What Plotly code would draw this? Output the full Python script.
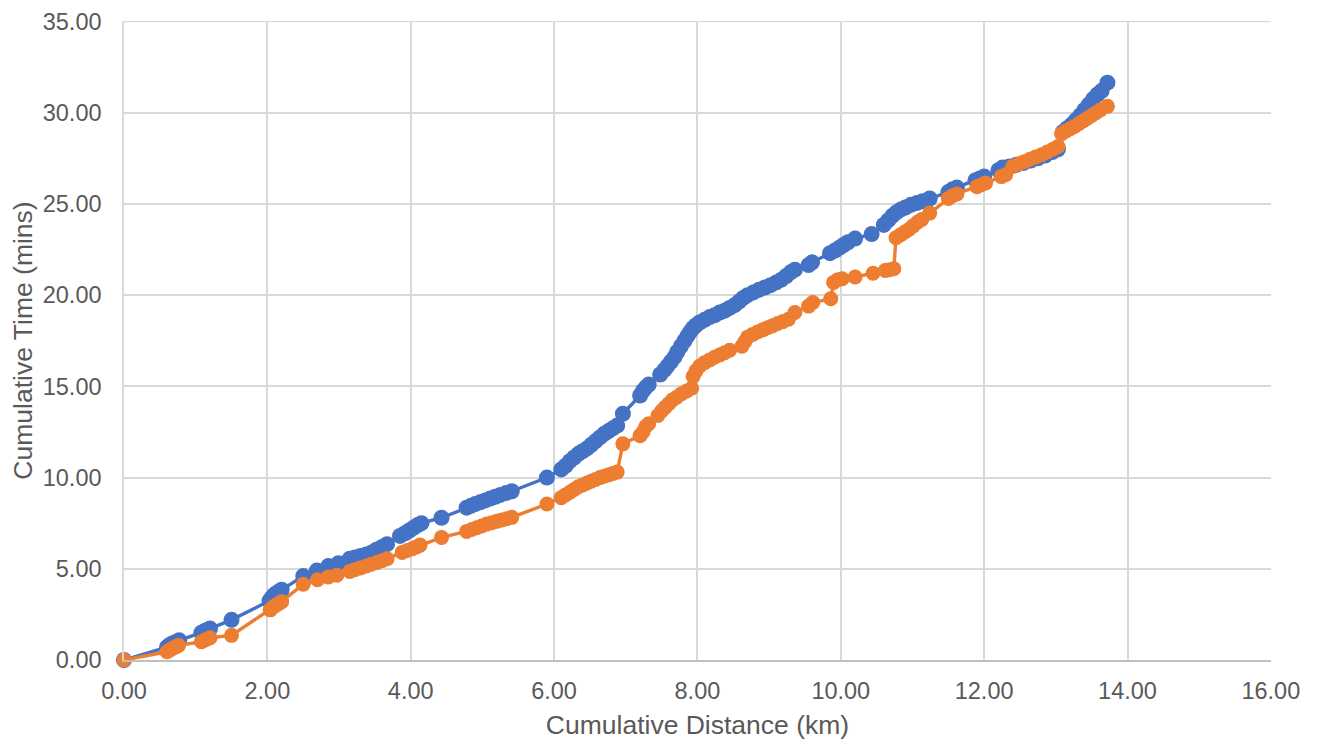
import plotly.graph_objects as go

# Blue series (cumulative distance km, cumulative time mins)
blue_x = [0, 0.60, 0.63, 0.66, 0.70, 0.74, 0.77, 1.08, 1.12, 1.16, 1.20, 1.50,
          2.03, 2.06, 2.09, 2.12, 2.16, 2.20, 2.50, 2.69, 2.85, 2.99, 3.15, 3.22,
          3.30, 3.38, 3.45, 3.52, 3.60, 3.67, 3.85, 3.92, 3.98, 4.04, 4.10, 4.15,
          4.43, 4.78, 4.84, 4.90, 4.97, 5.04, 5.11, 5.18, 5.25, 5.33, 5.41, 5.90,
          6.10, 6.16, 6.22, 6.28, 6.34, 6.40, 6.46, 6.52, 6.58, 6.64, 6.70, 6.76,
          6.82, 6.88, 6.96, 7.20, 7.24, 7.28, 7.32, 7.48, 7.54, 7.58, 7.63, 7.68,
          7.72, 7.77, 7.82, 7.86, 7.90, 7.94, 7.98, 8.03, 8.10, 8.17, 8.24, 8.31,
          8.38, 8.45, 8.52, 8.58, 8.64, 8.70, 8.78, 8.86, 8.94, 9.02, 9.10, 9.17,
          9.24, 9.30, 9.36, 9.55, 9.60, 9.85, 9.92, 9.98, 10.04, 10.10, 10.20, 10.43,
          10.60, 10.66, 10.72, 10.78, 10.84, 10.90, 10.98, 11.06, 11.14, 11.24, 11.50, 11.56,
          11.62, 11.88, 11.94, 12.00, 12.20, 12.26, 12.35, 12.45, 12.55, 12.65, 12.75, 12.85,
          12.95, 13.03, 13.10, 13.16, 13.22, 13.28, 13.34, 13.40, 13.46, 13.52, 13.58, 13.64,
          13.72]
blue_y = [0, 0.70, 0.80, 0.88, 0.95, 1.02, 1.08, 1.50, 1.58, 1.65, 1.72, 2.20,
          3.25, 3.40, 3.55, 3.65, 3.75, 3.85, 4.60, 4.90, 5.15, 5.30, 5.55, 5.62,
          5.70, 5.78, 5.88, 6.05, 6.20, 6.35, 6.80, 6.95, 7.10, 7.25, 7.40, 7.50,
          7.80, 8.35, 8.45, 8.55, 8.65, 8.75, 8.85, 8.95, 9.05, 9.15, 9.25, 10.00,
          10.45, 10.65, 10.90, 11.10, 11.30, 11.45, 11.60, 11.80, 12.00, 12.20, 12.40, 12.55,
          12.70, 12.85, 13.50, 14.50, 14.75, 14.95, 15.10, 15.65, 15.90, 16.10, 16.35, 16.60,
          16.90, 17.20, 17.50, 17.75, 18.00, 18.20, 18.35, 18.50, 18.65, 18.80, 18.90, 19.05,
          19.15, 19.30, 19.45, 19.65, 19.85, 20.00, 20.15, 20.30, 20.42, 20.55, 20.70, 20.85,
          21.05, 21.25, 21.40, 21.65, 21.80, 22.30, 22.45, 22.60, 22.75, 22.90, 23.10, 23.35,
          23.85, 24.10, 24.35, 24.55, 24.70, 24.80, 24.95, 25.05, 25.15, 25.30, 25.65, 25.80,
          25.90, 26.30, 26.40, 26.50, 26.85, 27.00, 27.05, 27.15, 27.25, 27.38, 27.50, 27.65,
          27.85, 28.00, 28.95, 29.15, 29.35, 29.60, 29.85, 30.15, 30.45, 30.75, 31.00, 31.20,
          31.65]

# Orange series
orange_x = [0, 0.60, 0.64, 0.68, 0.72, 0.76, 1.08, 1.12, 1.16, 1.20, 1.50,
            2.04, 2.08, 2.12, 2.16, 2.20, 2.50, 2.70, 2.85, 2.97, 3.15, 3.22,
            3.30, 3.38, 3.45, 3.53, 3.60, 3.67, 3.88, 3.95, 4.02, 4.08, 4.13,
            4.43, 4.78, 4.85, 4.92, 4.99, 5.06, 5.13, 5.20, 5.27, 5.34, 5.41,
            5.90, 6.10, 6.16, 6.22, 6.28, 6.34, 6.40, 6.46, 6.52, 6.58, 6.64,
            6.70, 6.76, 6.82, 6.88, 6.96, 7.20, 7.24, 7.28, 7.32, 7.45, 7.50,
            7.55, 7.60, 7.65, 7.71, 7.78, 7.85, 7.92, 7.94, 7.98, 8.03, 8.10,
            8.17, 8.24, 8.31, 8.38, 8.45, 8.62, 8.66, 8.70, 8.77, 8.84, 8.91,
            8.98, 9.05, 9.12, 9.19, 9.27, 9.36, 9.55, 9.61, 9.86, 9.90, 9.96,
            10.02, 10.20, 10.45, 10.62, 10.68, 10.74, 10.77, 10.83, 10.89, 10.95, 11.01,
            11.07, 11.13, 11.24, 11.50, 11.56, 11.62, 11.90, 11.96, 12.02, 12.24, 12.30,
            12.40, 12.48, 12.56, 12.64, 12.72, 12.80, 12.88, 12.96, 13.03, 13.08, 13.14,
            13.20, 13.26, 13.32, 13.38, 13.44, 13.50, 13.56, 13.62, 13.72]
orange_y = [0, 0.45, 0.55, 0.65, 0.72, 0.80, 1.00, 1.08, 1.15, 1.22, 1.35,
            2.75, 2.90, 3.00, 3.10, 3.20, 4.15, 4.40, 4.55, 4.65, 4.85, 4.95,
            5.05, 5.15, 5.25, 5.35, 5.45, 5.55, 5.90, 6.00, 6.10, 6.20, 6.30,
            6.72, 7.05, 7.15, 7.25, 7.35, 7.45, 7.52, 7.60, 7.68, 7.75, 7.82,
            8.55, 8.90, 9.05, 9.20, 9.35, 9.50, 9.60, 9.70, 9.80, 9.90, 10.00,
            10.08, 10.15, 10.22, 10.30, 11.85, 12.30, 12.50, 12.80, 12.95, 13.40, 13.65,
            13.85, 14.05, 14.25, 14.40, 14.60, 14.75, 14.90, 15.55, 15.85, 16.10, 16.30,
            16.45, 16.60, 16.72, 16.85, 16.98, 17.20, 17.45, 17.70, 17.85, 17.98, 18.10,
            18.22, 18.33, 18.45, 18.55, 18.68, 19.05, 19.40, 19.60, 19.80, 20.70, 20.85,
            20.90, 21.00, 21.20, 21.35, 21.40, 21.45, 23.15, 23.30, 23.45, 23.60, 23.80,
            24.00, 24.15, 24.50, 25.30, 25.45, 25.55, 25.95, 26.05, 26.15, 26.50, 26.60,
            27.05, 27.20, 27.32, 27.45, 27.58, 27.70, 27.85, 28.00, 28.15, 28.85, 29.00,
            29.12, 29.25, 29.40, 29.55, 29.70, 29.85, 30.00, 30.15, 30.35]

x_ticks = [0, 2, 4, 6, 8, 10, 12, 14, 16]
y_ticks = [0, 5, 10, 15, 20, 25, 30, 35]

BLUE = "#4472C4"
ORANGE = "#ED7D31"
TXT = "#595959"
GRID = "#D9D9D9"

fig = go.Figure()
fig.add_trace(go.Scatter(x=blue_x, y=blue_y, mode="lines+markers",
                         line=dict(color=BLUE, width=3.4),
                         marker=dict(color=BLUE, size=16), showlegend=False,
                         cliponaxis=False))
fig.add_trace(go.Scatter(x=orange_x, y=orange_y, mode="lines+markers",
                         line=dict(color=ORANGE, width=3.4),
                         marker=dict(color=ORANGE, size=15), showlegend=False,
                         cliponaxis=False))

# top gridline at the last y tick (drawn below the data)
fig.add_shape(type="line", xref="x", yref="y", layer="below",
              x0=x_ticks[0], x1=x_ticks[-1], y0=y_ticks[-1], y1=y_ticks[-1],
              line=dict(color=GRID, width=1.5))

font_family = "Liberation Sans, Arial, sans-serif"
fig.update_layout(
    width=1319, height=747,
    margin=dict(l=116, r=56, t=13, b=95),
    paper_bgcolor="white", plot_bgcolor="white",
    font=dict(family=font_family, color=TXT, size=23),
    xaxis=dict(range=[0, 16.002], tickvals=x_ticks,
               ticktext=[f"{v:.2f}" for v in x_ticks],
               showgrid=True, gridcolor=GRID, gridwidth=1.5,
               zeroline=False, showline=True, linecolor="#BFBFBF", linewidth=1.5,
               ticks="", tickfont=dict(size=23.5, color=TXT), ticklabelstandoff=9,
               automargin=False, ticklabeloverflow="allow",
               title=dict(text="Cumulative Distance (km)", font=dict(size=26.5, color=TXT), standoff=12)),
    yaxis=dict(range=[0, 35.03], tickvals=y_ticks,
               ticktext=[f"{v:.2f}" for v in y_ticks],
               showgrid=True, gridcolor=GRID, gridwidth=1.5,
               zeroline=False, showline=True, linecolor=GRID, linewidth=1.5,
               ticks="", tickfont=dict(size=23.5, color=TXT), ticklabelstandoff=16,
               automargin=False, ticklabeloverflow="allow",
               title=dict(text="Cumulative Time (mins)", font=dict(size=26.5, color=TXT), standoff=6)),
)

fig.write_html("out.html")
